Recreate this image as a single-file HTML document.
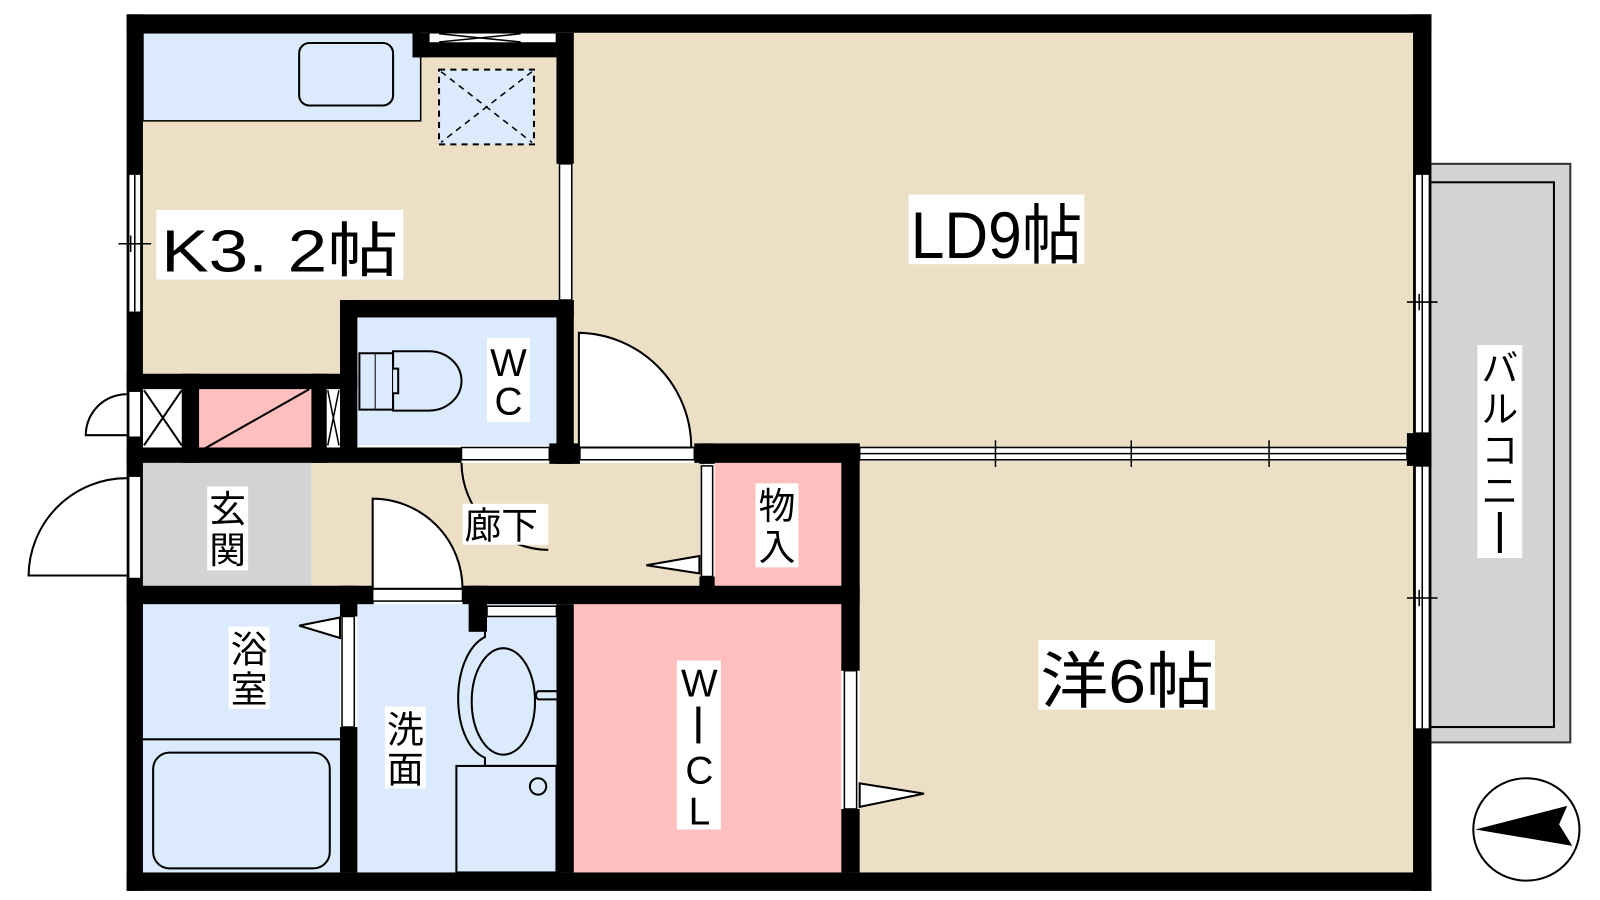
<!DOCTYPE html>
<html><head><meta charset="utf-8"><style>
html,body{margin:0;padding:0;background:#fff;width:1600px;height:900px;overflow:hidden}
svg{display:block}
text{font-family:"Liberation Sans","Noto Sans CJK JP",sans-serif;fill:#000}
</style></head><body>
<svg width="1600" height="900" viewBox="0 0 1600 900" xmlns="http://www.w3.org/2000/svg">
<g transform="scale(1.021,1.024)">
<!-- balcony -->
<rect x="1400" y="160" width="138" height="565" fill="#d3d3d3" stroke="#333" stroke-width="2"/>
<rect x="1400" y="178" width="122" height="532" fill="none" stroke="#000" stroke-width="2"/>
<!-- room fills -->
<rect x="140" y="32" width="408" height="335" fill="#EDDFC6"/>
<rect x="560" y="32" width="826" height="407" fill="#EDDFC6"/>
<rect x="140" y="32" width="272" height="86" fill="#DBEBFD" stroke="#000" stroke-width="1.5"/>
<rect x="293" y="42" width="92" height="61" rx="10" fill="none" stroke="#000" stroke-width="2"/>
<rect x="430" y="68" width="93" height="73" fill="#DBEBFD" stroke="#000" stroke-width="2" stroke-dasharray="6,5"/>
<path d="M432 70 L521 139 M521 70 L432 139" stroke="#000" stroke-width="1.5" stroke-dasharray="6,5"/>
<rect x="350" y="310" width="195" height="125" fill="#DBEBFD"/>
<rect x="140" y="380" width="40" height="57" fill="#fff"/>
<path d="M141 381 L178 435 M178 381 L141 435" stroke="#000" stroke-width="2"/>
<rect x="195" y="380" width="110" height="62" fill="#FFBFBF"/>
<path d="M197 440 L303 380" stroke="#000" stroke-width="2"/>
<rect x="320" y="380" width="13" height="57" fill="#fff"/>
<path d="M321 381 L332 435 M332 381 L321 435" stroke="#000" stroke-width="1.5"/>
<rect x="140" y="452" width="165" height="120" fill="#d3d3d3"/>
<rect x="305" y="452" width="385" height="120" fill="#EDDFC6"/>
<rect x="700" y="452" width="124" height="120" fill="#FFBFBF"/>
<rect x="842" y="450" width="544" height="402" fill="#EDDFC6"/>
<rect x="140" y="590" width="193" height="262" fill="#DBEBFD"/>
<line x1="140" y1="722" x2="333" y2="722" stroke="#000" stroke-width="2"/>
<rect x="150" y="735" width="173" height="113" rx="16" fill="none" stroke="#000" stroke-width="2"/>
<rect x="350" y="590" width="195" height="262" fill="#DBEBFD"/>
<rect x="562" y="590" width="262" height="262" fill="#FFBFBF"/>
<!-- walls -->
<g fill="#000">
<rect x="124" y="14" width="1278" height="18"/>
<rect x="124" y="852" width="1278" height="18"/>
<rect x="124" y="14" width="16" height="856"/>
<rect x="1384" y="14" width="18" height="856"/>
<rect x="404" y="32" width="16" height="24"/>
<rect x="404" y="42" width="141" height="14"/>
<rect x="545" y="32" width="17" height="128"/>
<rect x="333" y="293" width="229" height="17"/>
<rect x="333" y="293" width="17" height="147"/>
<rect x="545" y="293" width="17" height="160"/>
<rect x="124" y="365" width="226" height="15"/>
<rect x="178" y="365" width="17" height="87"/>
<rect x="305" y="365" width="15" height="87"/>
<rect x="124" y="437" width="328" height="15"/>
<rect x="538" y="433" width="30" height="20"/>
<rect x="680" y="433" width="162" height="19"/>
<rect x="685" y="433" width="15" height="20"/>
<rect x="685" y="563" width="15" height="12"/>
<rect x="824" y="433" width="18" height="222"/>
<rect x="824" y="790" width="18" height="62"/>
<rect x="124" y="572" width="242" height="18"/>
<rect x="453" y="572" width="389" height="18"/>
<rect x="459" y="572" width="18" height="45"/>
<rect x="333" y="572" width="17" height="30"/>
<rect x="333" y="710" width="17" height="142"/>
<rect x="545" y="590" width="17" height="262"/>
<rect x="1378" y="423" width="24" height="32"/>
</g>
<!-- windows & openings -->
<g fill="#fff" stroke="#000" stroke-width="1.5">
<rect x="420" y="32" width="125" height="10"/>
<rect x="548" y="160" width="12" height="133"/>
<rect x="126" y="170" width="12" height="135"/>
<rect x="126" y="382" width="12" height="45"/>
<rect x="126" y="465" width="12" height="100"/>
<rect x="452" y="437" width="86" height="12"/>
<rect x="568" y="437" width="112" height="12"/>
<rect x="687" y="455" width="11" height="108"/>
<rect x="365" y="575" width="88" height="12"/>
<rect x="477" y="592" width="68" height="10"/>
<rect x="335" y="602" width="12" height="108"/>
<rect x="827" y="655" width="12" height="135"/>
<rect x="1386" y="170" width="14" height="253"/>
<rect x="1386" y="455" width="14" height="257"/>
<rect x="842" y="437" width="536" height="12"/>
</g>
<g stroke="#000" stroke-width="1.5" fill="none">
<path d="M430 33 L510 41 M430 41 L510 33"/>
<line x1="132" y1="170" x2="132" y2="305"/>
<line x1="116" y1="238" x2="148" y2="238"/><line x1="128" y1="230" x2="128" y2="246"/>
<line x1="1393" y1="170" x2="1393" y2="423"/><line x1="1393" y1="455" x2="1393" y2="712"/>
<line x1="1378" y1="295" x2="1408" y2="295"/><line x1="1390" y1="287" x2="1390" y2="303"/>
<line x1="1378" y1="584" x2="1408" y2="584"/><line x1="1390" y1="576" x2="1390" y2="592"/>
<line x1="842" y1="443" x2="1378" y2="443"/>
<line x1="975" y1="430" x2="975" y2="456"/><line x1="1108" y1="430" x2="1108" y2="456"/><line x1="1243" y1="430" x2="1243" y2="456"/>
</g>
<!-- doors -->
<g fill="#fff" stroke="#000" stroke-width="2">
<path d="M567 437 L567 325 A112 112 0 0 1 677 437 Z"/>
<path d="M365 575 L365 487 A88 88 0 0 1 453 575 Z"/>
<path d="M124 562 L28 562 A96 96 0 0 1 124 467"/>
<path d="M124 425 L84 425 A40 40 0 0 1 124 385"/>
<path d="M452 452 A86 86 0 0 0 537 537" fill="none"/>
<path d="M685 543 L633 552 L685 560 Z"/>
<path d="M842 765 L905 775 L842 788 Z"/>
<path d="M333 603 L293 611 L333 623 Z"/>
</g>
<!-- toilet -->
<g fill="#DBEBFD" stroke="#000" stroke-width="2">
<path d="M352 345 L368 345 L368 400 L352 400 Z"/>
<path d="M368 345 L385 345 L385 400 L368 400"/>
<path d="M385 343 L420 343 A32 29 0 0 1 420 401 L385 401 Z"/>
<path d="M385 360 L390 360 L390 384 L385 384"/>
</g>
<!-- sink & washer -->
<g fill="#DBEBFD" stroke="#000" stroke-width="2">
<path d="M475 617 L475 622 C440 640 440 725 475 740 L475 748 L545 748"/>
<ellipse cx="493" cy="685" rx="31" ry="52"/>
<path d="M545 675 L527 675 A5 5 0 0 0 527 683 L545 683"/>
<rect x="447" y="748" width="98" height="104"/>
<circle cx="527" cy="768" r="8"/>
</g>
<!-- labels -->
<g>
<rect x="153" y="205" width="242" height="68" fill="#fff"/>
<text x="158" y="265" font-size="58" textLength="232" lengthAdjust="spacingAndGlyphs">K3. 2帖</text>
<rect x="890" y="190" width="172" height="68" fill="#fff"/>
<text x="892" y="252" font-size="64" textLength="168" lengthAdjust="spacingAndGlyphs">LD9帖</text>
<rect x="1017" y="625" width="173" height="68" fill="#fff"/>
<text x="1019" y="686" font-size="60" textLength="170" lengthAdjust="spacingAndGlyphs">洋6帖</text>
<rect x="477" y="330" width="42" height="82" fill="#fff"/>
<text x="498" y="367" font-size="38" text-anchor="middle">W</text>
<text x="498" y="405" font-size="38" text-anchor="middle">C</text>
<rect x="203" y="475" width="40" height="82" fill="#fff"/>
<text x="223" y="510" font-size="36" text-anchor="middle">玄</text>
<text x="223" y="550" font-size="36" text-anchor="middle">関</text>
<rect x="453" y="492" width="84" height="40" fill="#fff"/>
<text x="455" y="526" font-size="36">廊下</text>
<rect x="740" y="472" width="42" height="82" fill="#fff"/>
<text x="761" y="507" font-size="36" text-anchor="middle">物</text>
<text x="761" y="547" font-size="36" text-anchor="middle">入</text>
<rect x="224" y="612" width="40" height="80" fill="#fff"/>
<text x="244" y="647" font-size="36" text-anchor="middle">浴</text>
<text x="244" y="686" font-size="36" text-anchor="middle">室</text>
<rect x="377" y="690" width="40" height="80" fill="#fff"/>
<text x="397" y="725" font-size="36" text-anchor="middle">洗</text>
<text x="397" y="764" font-size="36" text-anchor="middle">面</text>
<rect x="663" y="645" width="43" height="165" fill="#fff"/>
<text x="685" y="680" font-size="38" text-anchor="middle">W</text>
<rect x="682" y="690" width="4" height="36" fill="#000"/>
<text x="685" y="765" font-size="38" text-anchor="middle">C</text>
<text x="685" y="805" font-size="38" text-anchor="middle">L</text>
<rect x="1447" y="337" width="44" height="208" fill="#fff"/>
<text x="1469" y="372" font-size="36" text-anchor="middle">バ</text>
<text x="1469" y="412" font-size="36" text-anchor="middle">ル</text>
<text x="1469" y="452" font-size="36" text-anchor="middle">コ</text>
<text x="1469" y="492" font-size="36" text-anchor="middle">ニ</text>
<rect x="1467" y="500" width="4" height="40" fill="#000"/>
</g>
<!-- compass -->
<ellipse cx="1495" cy="810" rx="52" ry="50" fill="#fff" stroke="#000" stroke-width="2"/>
<path d="M1445 810 L1535 787 L1527 805 L1540 826 Z" fill="#000"/>
</g>
</svg>
</body></html>
